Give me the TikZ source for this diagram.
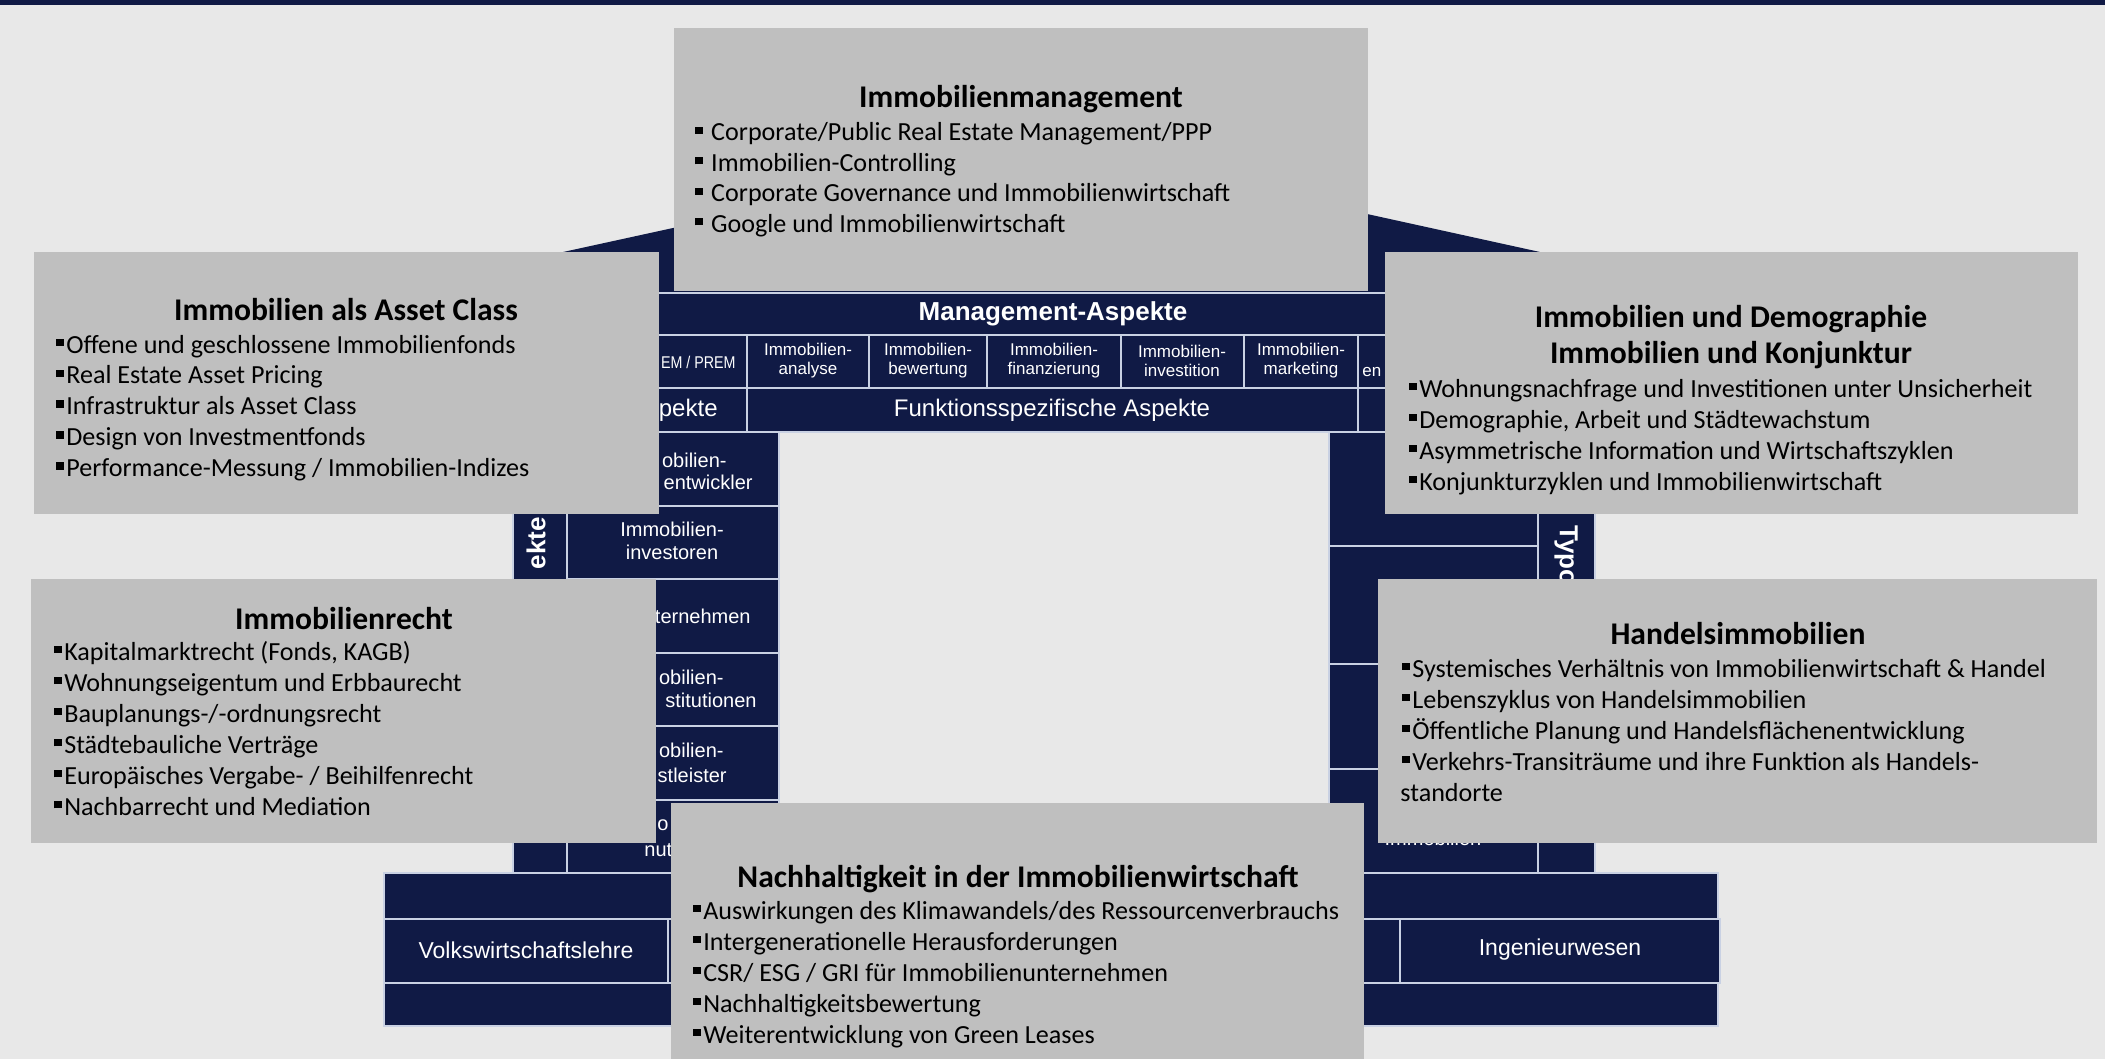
\documentclass[tikz,border=0pt]{standalone}
\usepackage{fontspec}
\newfontfamily\boxfont{Carlito}
\newfontfamily\housefont{Liberation Sans}
\newfontfamily\narrowfont[FakeStretch=0.84]{Liberation Sans}
\definecolor{navy}{HTML}{101A45}
\definecolor{boxgray}{HTML}{BFBFBF}
\definecolor{paper}{HTML}{E8E8E8}
\definecolor{gridline}{HTML}{C9D1E3}
\newcommand{\itm}{\rule[0.27em]{0.28em}{0.28em}\hspace{0.1em}}

\begin{document}
\begin{tikzpicture}[x=0.5pt, y=-0.5pt,
    every node/.style={inner sep=0pt},
    cell/.style={fill=navy, draw=gridline, line width=1pt},
    bandtext/.style={text=white, font=\housefont\fontsize{12}{14}\selectfont},
    celltext/.style={text=white, align=center, font=\housefont\fontsize{8.5}{9.5}\selectfont},
    pillartext/.style={text=white, align=center, font=\housefont\fontsize{10}{11.5}\selectfont},
    vtext/.style={text=white, font=\housefont\bfseries\fontsize{13}{15}\selectfont},
    basetext/.style={text=white, font=\housefont\fontsize{11.5}{13}\selectfont},
    boxtitle/.style={anchor=base, font=\boxfont\bfseries\fontsize{15.8}{18}\selectfont},
    boxitem/.style={anchor=base west, font=\boxfont\fontsize{13.05}{15}\selectfont}]
            \useasboundingbox (0,0) rectangle (2105,1059);
            \fill[paper] (0,0) rectangle (2105,1059);
            \fill[navy] (0,0) rectangle (2105,5);
            \fill[navy] (380,292) -- (1053,145) -- (1722,292) -- cycle;
            \draw[cell] (513,293) rectangle (1595,335);
            \node[bandtext, font=\housefont\bfseries\fontsize{13}{15}\selectfont] (mgmt) at (1053,314) {Management-Aspekte};
            \foreach \a/\b in {513/747,747/869,869/987,987/1121,1121/1244,1244/1358,1358/1595}
                \draw[cell] (\a,335) rectangle (\b,388);
            \foreach \a/\b in {513/747,747/1358,1358/1595}
                \draw[cell] (\a,388) rectangle (\b,432);
            \foreach \x/\lbl/\n in {808/analyse/ana,928/bewertung/bew,1054/finanzierung/fin,1182/investition/inv,1301/marketing/mkt}
                \node[celltext] (\n) at (\x,361) {Immobilien-\\\lbl};
            \node[celltext, anchor=east, font=\narrowfont\fontsize{8.5}{9.5}\selectfont] (prem) at (736,362) {EM / PREM};
            \node[celltext, anchor=west] (en) at (1362,372) {en};
            \node[bandtext, anchor=east] (strat) at (718,410) {pekte};
            \node[bandtext] (funk) at (1052,410) {Funktionsspezifische Aspekte};
            \draw[cell] (513,432) rectangle (567,873);
            \node[vtext, rotate=90, anchor=east] (inst) at (536,517) {ekte};
            \foreach \i in {0,...,5}
                \draw[cell] (567,{432+73.5*\i}) rectangle (779,{505.5+73.5*\i});
            \node[pillartext, anchor=east] (dev1) at (727,460) {obilien-};
            \node[pillartext, anchor=east] (dev2) at (753,482) {entwickler};
            \node[pillartext] (inv) at (672,541) {Immobilien-\\investoren};
            \node[pillartext, anchor=east] (bau) at (751,616) {ternehmen};
            \node[pillartext, anchor=east] (fin1) at (724,677) {obilien-};
            \node[pillartext, anchor=east] (fin2) at (757,700) {stitutionen};
            \node[pillartext, anchor=east] (dl1) at (724,750) {obilien-};
            \node[pillartext, anchor=east] (dl2) at (727,775) {stleister};
            \node[pillartext] (nu1) at (663,825) {o};
            \node[pillartext, anchor=west] (nu2) at (644,850) {nut};
            \draw[cell] (1538,432) rectangle (1595,873);
            \node[vtext, rotate=-90, anchor=west] (typ) at (1566,525) {Typo};
            \foreach \a/\b in {432/546,546/664,664/769,769/873}
                \draw[cell] (1329,\a) rectangle (1538,\b);
            \node[pillartext] (spez) at (1433,838) {Immobilien};
            \draw[cell] (384,873) rectangle (1718,919);
            \foreach \a/\b in {384/668,668/1400,1400/1720}
                \draw[cell] (\a,919) rectangle (\b,983);
            \draw[cell] (384,983) rectangle (1718,1026);
            \node[basetext] (vwl) at (526,950) {Volkswirtschaftslehre};
            \node[basetext] (ing) at (1560,950) {Ingenieurwesen};
            \fill[boxgray] (674,28) rectangle (1368,291);
            \fill[boxgray] (34,252) rectangle (659,514);
            \fill[boxgray] (1385,252) rectangle (2078,514);
            \fill[boxgray] (31,579) rectangle (656,843);
            \fill[boxgray] (1378,579) rectangle (2097,843);
            \fill[boxgray] (671,803) rectangle (1364,1059);
            \node[boxtitle] (t-mgmt) at (1021,108) {Immobilienmanagement};
            \foreach \i/\t in {0/{Corporate/Public Real Estate Management/PPP},1/{Immobilien-Controlling},2/{Corporate Governance und Immobilienwirtschaft},3/{Google und Immobilienwirtschaft}}
                \node[boxitem] (mgmt-\i) at (695,{141+30.5*\i}) {\itm\ \t};
            \node[boxtitle] (t-asset) at (346,321) {Immobilien als Asset Class};
            \foreach \i/\t in {0/{Offene und geschlossene Immobilienfonds},1/{Real Estate Asset Pricing},2/{Infrastruktur als Asset Class},3/{Design von Investmentfonds},4/{Performance-Messung / Immobilien-Indizes}}
                \node[boxitem] (asset-\i) at (56,{353+30.9*\i}) {\itm\t};
            \node[boxtitle] (t-demo) at (1731,328) {Immobilien und Demographie};
            \node[boxtitle] (t-konj) at (1731,364) {Immobilien und Konjunktur};
            \foreach \i/\t in {0/{Wohnungsnachfrage und Investitionen unter Unsicherheit},1/{Demographie, Arbeit und Städtewachstum},2/{Asymmetrische Information und Wirtschaftszyklen},3/{Konjunkturzyklen und Immobilienwirtschaft}}
                \node[boxitem] (demo-\i) at (1409,{397+31*\i}) {\itm\t};
            \node[boxtitle] (t-recht) at (344,629) {Immobilienrecht};
            \foreach \i/\t in {0/{Kapitalmarktrecht (Fonds, KAGB)},1/{Wohnungseigentum und Erbbaurecht},2/{Bauplanungs-/-ordnungsrecht},3/{Städtebauliche Verträge},4/{Europäisches Vergabe- / Beihilfenrecht},5/{Nachbarrecht und Mediation}}
                \node[boxitem] (recht-\i) at (54,{660+31.1*\i}) {\itm\t};
            \node[boxtitle] (t-handel) at (1738,644) {Handelsimmobilien};
            \foreach \i/\t in {0/{Systemisches Verhältnis von Immobilienwirtschaft \& Handel},1/{Lebenszyklus von Handelsimmobilien},2/{Öffentliche Planung und Handelsflächenentwicklung},3/{Verkehrs-Transiträume und ihre Funktion als Handels-}}
                \node[boxitem] (handel-\i) at (1402,{677+31*\i}) {\itm\t};
            \node[boxitem] (handel-4) at (1400,801) {standorte};
            \node[boxtitle] (t-nach) at (1018,887) {Nachhaltigkeit in der Immobilienwirtschaft};
            \foreach \i/\t in {0/{Auswirkungen des Klimawandels/des Ressourcenverbrauchs},1/{Intergenerationelle Herausforderungen},2/{CSR/ ESG / GRI für Immobilienunternehmen},3/{Nachhaltigkeitsbewertung},4/{Weiterentwicklung von Green Leases}}
                \node[boxitem] (nach-\i) at (693,{919+31*\i}) {\itm\t};
        \end{tikzpicture}
\end{document}
